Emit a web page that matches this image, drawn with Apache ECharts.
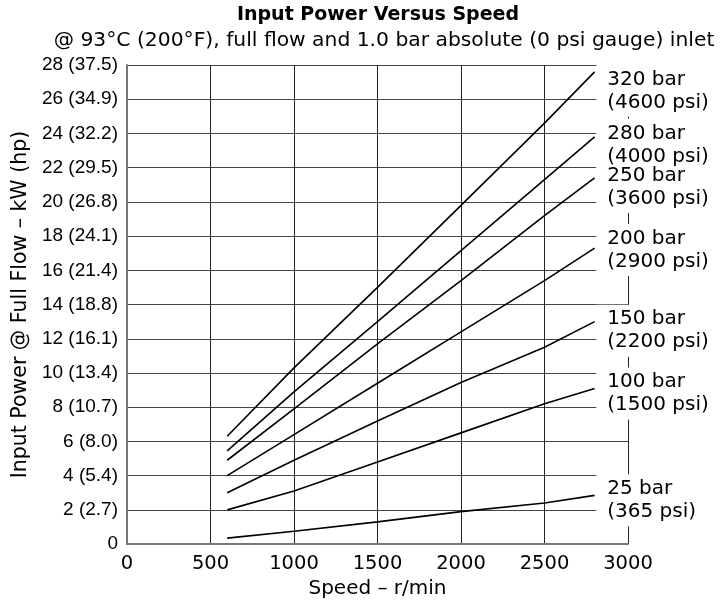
<!DOCTYPE html>
<html>
<head>
<meta charset="utf-8">
<script src="https://cdn.jsdelivr.net/npm/echarts@6/dist/echarts.min.js"></script>
<style>html,body{margin:0;padding:0;background:#fff}#c{width:721px;height:604px}</style>
</head>
<body>
<div id="c"></div>
<script>
// ---- data ----
var speeds = [600, 1000, 1500, 2000, 2500, 2800];
var p320 = [6.3, 10.3, 15.0, 19.8, 24.6, 27.6];
var p280 = [5.45, 8.9, 13.0, 17.15, 21.3, 23.8];
var p250 = [4.9, 7.9, 11.7, 15.4, 19.2, 21.4];
var p200 = [4.0, 6.4, 9.4, 12.4, 15.4, 17.3];
var p150 = [3.0, 4.9, 7.2, 9.45, 11.5, 13.0];
var p100 = [2.0, 3.1, 4.8, 6.5, 8.2, 9.1];
var p25  = [0.35, 0.75, 1.3, 1.9, 2.4, 2.85];
var seriesNames = ['320 bar', '280 bar', '250 bar', '200 bar', '150 bar', '100 bar', '25 bar'];
var seriesPsi = ['(4600 psi)', '(4000 psi)', '(3600 psi)', '(2900 psi)', '(2200 psi)', '(1500 psi)', '(365 psi)'];
var yTicks = [0, 2, 4, 6, 8, 10, 12, 14, 16, 18, 20, 22, 24, 26, 28];
var hpTicks = ['', '2.7', '5.4', '8.0', '10.7', '13.4', '16.1', '18.8', '21.4', '24.1', '26.8', '29.5', '32.2', '34.9', '37.5'];
var xTicks = [0, 500, 1000, 1500, 2000, 2500, 3000];
var titleText = 'Input Power Versus Speed';
var subtitleText = '@ 93°C (200°F), full flow and 1.0 bar absolute (0 psi gauge) inlet';
var xName = 'Speed – r/min';
var yName = 'Input Power @ Full Flow – kW (hp)';

var allSeries = [p320, p280, p250, p200, p150, p100, p25];
// layout: pixel offsets of label blocks relative to line ends
var labelDy = [19, 8, 9, 2, 9, 5, 5];

var chart = echarts.init(document.getElementById('c'), null, {renderer: 'canvas'});
var FONT = 'DejaVu Sans';

var series = allSeries.map(function (vals, i) {
  return {
    name: seriesNames[i],
    type: 'line',
    data: vals.map(function (v, j) { return [speeds[j], v]; }),
    symbol: 'none',
    lineStyle: {color: '#000', width: 1.6},
    z: 3,
    animation: false
  };
});

chart.setOption({
  animation: false,
  title: [
    {text: titleText, left: 373, top: 1, textAlign: 'center',
     textStyle: {fontFamily: FONT, fontWeight: 'bold', fontSize: 19, color: '#000'}},
    {text: subtitleText, left: 379, top: 26, textAlign: 'center',
     textStyle: {fontFamily: FONT, fontWeight: 'normal', fontSize: 20.3, color: '#000'}}
  ],
  grid: {left: 127, right: 93, top: 65, bottom: 53, containLabel: false},
  xAxis: {
    type: 'value', min: xTicks[0], max: xTicks[xTicks.length - 1], interval: 500,
    name: xName, nameLocation: 'middle', nameGap: 28,
    nameTextStyle: {fontFamily: FONT, fontSize: 20, color: '#000'},
    axisLine: {lineStyle: {color: '#777', width: 2}},
    axisTick: {show: false},
    axisLabel: {fontFamily: FONT, fontSize: 19.5, color: '#000', margin: 10,
      formatter: function (v) { return String(v); }},
    splitLine: {show: true, lineStyle: {color: '#222', width: 1}}
  },
  yAxis: {
    type: 'value', min: yTicks[0], max: yTicks[yTicks.length - 1], interval: 2,
    name: yName, nameLocation: 'middle', nameGap: 94, nameRotate: 90,
    nameTextStyle: {fontFamily: FONT, fontSize: 20.5, color: '#000'},
    axisLine: {show: true, lineStyle: {color: '#777', width: 2}},
    axisTick: {show: false},
    axisLabel: {
      fontFamily: 'Liberation Sans', fontSize: 19, color: '#000', margin: 9,
      formatter: function (v) {
        var i = yTicks.indexOf(v);
        if (i < 0) return '';
        return hpTicks[i] ? (v + ' (' + hpTicks[i] + ')') : String(v);
      }
    },
    splitLine: {show: true, lineStyle: {color: '#444', width: 1.2}}
  },
  series: series
});

// right-hand labels with white boxes covering the grid beyond the curves
var graphics = [];
var boxLeft = chart.convertToPixel({gridIndex: 0}, [2810, 0])[0];
allSeries.forEach(function (vals, i) {
  var end = chart.convertToPixel({gridIndex: 0}, [speeds[speeds.length - 1], vals[vals.length - 1]]);
  var cy = end[1] + labelDy[i];
  graphics.push({
    type: 'rect', z: 10,
    shape: {x: boxLeft, y: cy - 26, width: 721 - boxLeft, height: 52},
    style: {fill: '#fff'}
  });
  graphics.push({
    type: 'text', z: 11,
    x: boxLeft + 11, y: cy,
    style: {
      text: seriesNames[i] + '\n' + seriesPsi[i],
      fontFamily: FONT, fontSize: 20, lineHeight: 23,
      fill: '#000', verticalAlign: 'middle', align: 'left'
    }
  });
});
chart.setOption({graphic: graphics});
</script>
</body>
</html>
